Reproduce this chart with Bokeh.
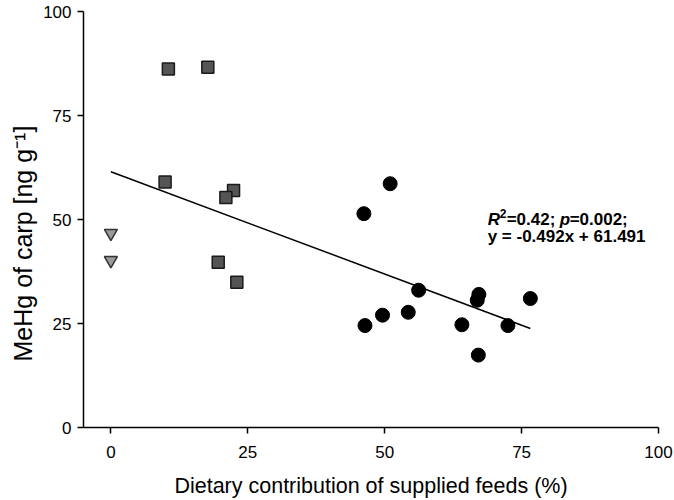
from bokeh.plotting import figure
from bokeh.models import Label, Title
from bokeh.embed import file_html
from bokeh.resources import INLINE

# Data
tri_x = [0, 0]
tri_y = [46.7, 40.2]

sq_x = [10.5, 17.7, 9.9, 22.4, 21.0, 19.6, 23.0]
sq_y = [86.2, 86.6, 59.0, 57.0, 55.3, 39.7, 34.9]

circ_x = [51.0, 46.2, 56.2, 49.6, 54.3, 46.4, 64.1, 67.2, 66.9, 72.5, 76.6, 67.1]
circ_y = [58.6, 51.4, 33.0, 27.0, 27.7, 24.5, 24.7, 32.0, 30.6, 24.5, 31.0, 17.4]

slope = -0.492
intercept = 61.491
fit_x = [0, 76.6]
fit_y = [slope * x + intercept for x in fit_x]

x_ticks = [0, 25, 50, 75, 100]
y_ticks = [0, 25, 50, 75, 100]

x_title = "Dietary contribution of supplied feeds (%)"
y_title = "MeHg of carp [ng g\u207b\u00b9]"

FONT = "Liberation Sans"

p = figure(width=674, height=500, x_range=(-5, 100), y_range=(0, 100),
           output_backend="svg", toolbar_location=None,
           min_border_left=83, min_border_right=16, min_border_top=11,
           min_border_bottom=73)
p.outline_line_color = None
p.grid.visible = False
p.background_fill_color = "white"

for ax in (p.xaxis[0], p.yaxis[0]):
    ax.minor_tick_line_color = None
    ax.major_tick_in = 0
    ax.major_tick_out = 6
    ax.major_tick_line_color = "black"
    ax.major_tick_line_width = 1.5
    ax.axis_line_color = "black"
    ax.axis_line_width = 1.5
    ax.major_label_text_font = FONT
    ax.major_label_text_font_size = "17px"
    ax.major_label_text_color = "black"
    ax.axis_label_text_font = FONT
    ax.axis_label_text_font_size = "21.5px"
    ax.axis_label_text_font_style = "normal"
    ax.axis_label_text_color = "black"

p.xaxis.ticker = x_ticks
p.yaxis.ticker = y_ticks
p.xaxis.major_label_standoff = 12
p.yaxis.major_label_standoff = 6
p.xaxis.axis_label = x_title
p.xaxis.axis_label_standoff = 13

# y title as a side title, anchored from the bottom like the reference
p.add_layout(Title(text=y_title, align="left", offset=66,
                   text_font=FONT, text_font_size="25px",
                   text_font_style="normal", text_color="black",
                   standoff=8), "left")

p.line(fit_x, fit_y, line_color="black", line_width=1.5)

p.scatter(tri_x, tri_y, marker="inverted_triangle", size=13,
          fill_color="#9a9a9a", line_color="#333333", line_width=1.5)
p.scatter(sq_x, sq_y, marker="square", size=12,
          fill_color="#555555", line_color="#1a1a1a", line_width=1.5)
p.scatter(circ_x, circ_y, marker="circle", size=14,
          fill_color="black", line_color="black")

# annotation
ann_x = 68.8
ann1 = [("R", "bold italic", 0, 0, "17px"), ("2", "bold", 12, 6, "12px"),
        ("=0.42; ", "bold", 19, 0, "17px"), ("p", "bold italic", 72, 0, "17px"),
        ("=0.002;", "bold", 82, 0, "17px")]
for txt, style, dx, dy, fs in ann1:
    p.add_layout(Label(x=ann_x, y=50.0, x_offset=dx, y_offset=dy, text=txt,
                       text_font=FONT, text_font_size=fs,
                       text_font_style=style, text_color="black",
                       text_baseline="alphabetic"))
p.add_layout(Label(x=ann_x, y=45.9, text="y = -0.492x + 61.491",
                   text_font=FONT, text_font_size="17px",
                   text_font_style="bold", text_color="black",
                   text_baseline="alphabetic"))

open("out.html", "w").write(file_html(p, INLINE))
